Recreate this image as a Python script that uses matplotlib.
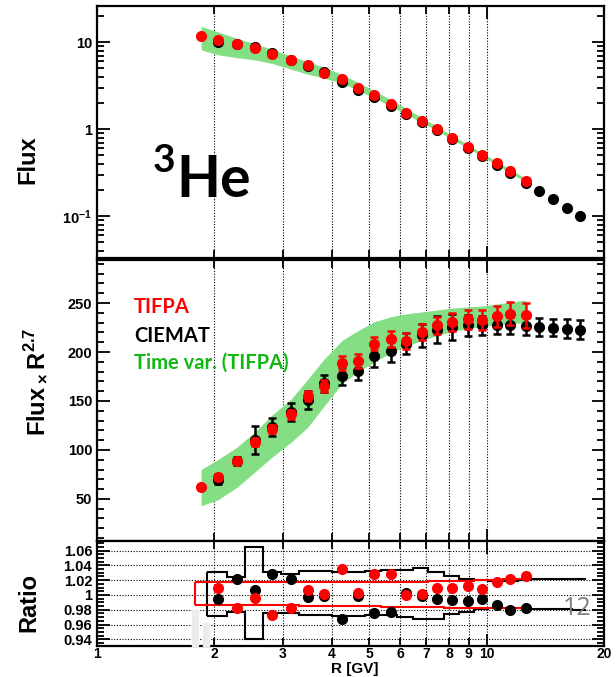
import numpy as np
import matplotlib.pyplot as plt
from matplotlib.ticker import FixedLocator, MultipleLocator, NullFormatter, FuncFormatter, LogLocator
from matplotlib.patches import Rectangle

plt.rcParams['mathtext.fontset'] = 'custom'
plt.rcParams['mathtext.rm'] = 'Liberation Sans'
plt.rcParams['mathtext.bf'] = 'Liberation Sans:bold'

# rigidity bin centres [GV]
rig = [1.85, 2.04, 2.29, 2.55, 2.82, 3.15, 3.47, 3.83, 4.26, 4.68, 5.15,
       5.67, 6.22, 6.84, 7.47, 8.16, 8.95, 9.75, 10.6, 11.5, 12.6,
       13.6, 14.8, 16.1, 17.4]

# Flux x R^2.7, TIFPA analysis (first 21 bins)
tifpa_r27 = [61.8, 72.7, 88.4, 108.4, 121.3, 136.3, 155.0, 165.5, 188.5, 190.5,
             208.6, 213.0, 211.3, 220.5, 227.2, 230.7, 233.3, 233.0, 236.4, 239.2, 237.4]
tifpa_err = [2, 3, 3, 4, 4, 5, 5, 6, 7, 7, 7, 8, 8, 8, 9, 9, 10, 10, 11, 12, 13]

# Flux x R^2.7, CIEMAT analysis (from the second bin on)
ciemat_r27 = [69.4, 89.0, 110.0, 123.7, 139.0, 151.0, 168.0, 175.8, 181.0, 196.0,
              200.8, 208.6, 217.0, 222.9, 225.6, 227.2, 227.2, 228.0, 227.2, 226.5,
              225.6, 225.0, 223.9, 222.9]
ciemat_err = [4, 4, 14, 9, 9, 9, 9, 9, 10, 11, 11, 11, 12, 14, 13, 11, 10, 10,
              9, 9, 9, 9, 10, 10]

# time variation band (TIFPA), Flux x R^2.7
band_lo = [43, 49, 62, 78, 93, 108, 123, 145, 168, 180, 190, 199, 206, 212,
           217, 221, 224, 226, 228, 229, 230]
band_hi = [80, 90, 103, 119, 136, 152, 172, 193, 212, 222, 231, 236, 239, 241,
           243, 245, 246, 247, 249, 251, 253]

# ratios to the mean, bins 2.04 .. 12.6 GV
ratio_tifpa = [1.009, 0.983, 0.996, 0.973, 0.982, 1.0065, 1.002, 1.035, 1.003, 1.028,
               1.028, 1.000, 1.002, 1.009, 1.009, 1.012, 1.008, 1.018, 1.022, 1.026]
ratio_ciemat = [0.994, 1.022, 1.0065, 1.028, 1.0215, 0.9966, 0.998, 0.968, 0.999, 0.976,
                0.977, 1.003, 0.999, 0.994, 0.993, 0.992, 0.995, 0.986, 0.980, 0.983]

# total uncertainty envelope (black) on bin edges 1.92 .. 18 GV
env_edges = [1.92, 2.15, 2.40, 2.67, 2.97, 3.29, 3.64, 4.02, 4.43, 4.88, 5.37, 5.90,
             6.47, 7.09, 7.76, 8.48, 9.26, 10.1, 11.0, 12.0, 13.0, 14.1, 15.3, 16.6, 18.0]
env_hi = [1.031, 1.0246, 1.0645, 1.0306, 1.029, 1.033, 1.033, 1.031, 1.031, 1.033,
          1.034, 1.034, 1.036, 1.031, 1.026, 1.022, 1.020, 1.019, 1.019, 1.020,
          1.021, 1.021, 1.022, 1.022]
env_lo = [0.9716, 0.977, 0.940, 0.976, 0.975, 0.9725, 0.9725, 0.971, 0.971, 0.973,
          0.9725, 0.970, 0.968, 0.968, 0.974, 0.977, 0.981, 0.982, 0.982, 0.982,
          0.981, 0.981, 0.981, 0.980]

# TIFPA uncertainty band (red) on bin edges 1.78 .. 13 GV
red_edges = [1.78, 1.92, 2.15, 2.40, 2.67, 2.97, 3.29, 3.64, 4.02, 4.43, 4.88, 5.37,
             5.90, 6.47, 7.09, 7.76, 8.48, 9.26, 10.1, 11.0, 12.0, 13.0]
red_hi = [1.017, 1.017, 1.017, 1.017, 1.017, 1.017, 1.018, 1.018, 1.017, 1.017, 1.017,
          1.018, 1.018, 1.018, 1.019, 1.019, 1.019, 1.020, 1.020, 1.021, 1.022]
red_lo = [0.986, 0.986, 0.986, 0.986, 0.986, 0.986, 0.985, 0.985, 0.985, 0.985, 0.985,
          0.984, 0.984, 0.984, 0.984, 0.983, 0.983, 0.983, 0.982, 0.982, 0.982]

x_labels = [1, 2, 3, 4, 5, 6, 7, 8, 9, 10, 20]

TICKFONT = {'family': 'Liberation Sans', 'weight': 'bold', 'size': 10.5}
XTICKFONT = {'family': 'Liberation Sans', 'weight': 'bold', 'size': 10}
GREEN_BAND = '#84de84'

rig = np.array(rig)
n_t = len(tifpa_r27)
r_t = rig[:n_t]
r_c = rig[1:1 + len(ciemat_r27)]
r_ratio = rig[1:1 + len(ratio_tifpa)]


def style_axes(ax, show_xlabels=False):
    ax.set_xscale('log')
    ax.set_xlim(1, 20)
    for s in ax.spines.values():
        s.set_linewidth(1.6)
    ax.xaxis.set_major_locator(FixedLocator([1, 10]))
    ax.xaxis.set_minor_locator(FixedLocator([2, 3, 4, 5, 6, 7, 8, 9, 20]))
    ax.tick_params(which='both', direction='in', top=True, right=True, width=1.3)
    ax.tick_params(which='major', length=9)
    ax.tick_params(which='minor', length=5)
    ax.tick_params(axis='x', which='minor', length=6)
    for v in x_labels[1:]:
        ax.axvline(v, color='k', ls=(0, (1, 1.5)), lw=0.8, zorder=0.5)
    if show_xlabels:
        fmt = FuncFormatter(lambda v, p: f'{v:g}')
        ax.xaxis.set_major_formatter(fmt)
        ax.xaxis.set_minor_formatter(fmt)
        ax.tick_params(axis='x', which='both', pad=1)
    else:
        ax.xaxis.set_major_formatter(NullFormatter())
        ax.xaxis.set_minor_formatter(NullFormatter())
    for lab in ax.get_xticklabels(which='both'):
        lab.set_fontproperties(XTICKFONT)
    for lab in ax.get_yticklabels():
        lab.set_fontproperties(TICKFONT)


fig = plt.figure(figsize=(6.16, 6.77), dpi=100)
L, W = 97 / 616, 507 / 616
ax1 = fig.add_axes([L, 1 - 258 / 677, W, 252 / 677])
ax2 = fig.add_axes([L, 1 - 541 / 677, W, 281 / 677])
ax3 = fig.add_axes([L, 1 - 646 / 677, W, 105 / 677])

# --- flux panel
scale_t = r_t ** 2.7
ax1.fill_between(r_t, np.array(band_lo) / scale_t, np.array(band_hi) / scale_t,
                 color=GREEN_BAND, lw=0, zorder=1)
ax1.plot(r_c, np.array(ciemat_r27) / r_c ** 2.7, 'o', color='k', ms=7, zorder=3)
ax1.plot(r_t, np.array(tifpa_r27) / scale_t, 'o', color='#ff0000', ms=7, zorder=4)
ax1.set_yscale('log')
ax1.set_ylim(0.033, 26)
ax1.yaxis.set_major_locator(FixedLocator([0.1, 1, 10]))
ax1.yaxis.set_minor_locator(LogLocator(base=10, subs=np.arange(2, 10)))
ax1.yaxis.set_minor_formatter(NullFormatter())
ax1.yaxis.set_major_formatter(FuncFormatter(
    lambda v, p: {0.1: r'$\mathbf{10^{-1}}$', 1: '1', 10: '10'}.get(round(v, 3), '')))
style_axes(ax1)

# --- flux x R^2.7 panel
ax2.fill_between(r_t, band_lo, band_hi, color=GREEN_BAND, lw=0, zorder=1)
ax2.errorbar(r_c, ciemat_r27, yerr=ciemat_err, fmt='o', color='k', ms=7,
             elinewidth=1.8, capsize=3, capthick=1.8, zorder=3)
ax2.errorbar(r_t, tifpa_r27, yerr=tifpa_err, fmt='o', color='#ff0000', ms=7,
             elinewidth=1.8, capsize=3, capthick=1.8, zorder=4)
ax2.set_ylim(7, 294)
ax2.yaxis.set_major_locator(MultipleLocator(50))
ax2.yaxis.set_minor_locator(MultipleLocator(10))
ax2.yaxis.set_major_formatter(FuncFormatter(lambda v, p: f'{v:g}' if v >= 50 else ''))
style_axes(ax2)

# --- ratio panel
ax3.set_ylim(0.931, 1.073)
ax3.yaxis.set_major_locator(FixedLocator([0.94, 0.96, 0.98, 1.0, 1.02, 1.04, 1.06]))
ax3.yaxis.set_minor_locator(MultipleLocator(0.005))
ax3.yaxis.set_major_formatter(FuncFormatter(lambda v, p: f'{v:g}'))
for v in [0.94, 0.96, 0.98, 1.0, 1.02, 1.04, 1.06]:
    ax3.axhline(v, color='k', ls=(0, (1, 1.5)), lw=0.8, zorder=0.5)
ax3.stairs(env_hi, env_edges, baseline=None, color='k', lw=1.5, zorder=2)
ax3.stairs(env_lo, env_edges, baseline=None, color='k', lw=1.5, zorder=2)
ax3.vlines(env_edges[0], env_lo[0], env_hi[0], color='k', lw=1.5, zorder=2)
ax3.stairs(red_hi, red_edges, baseline=None, color='#ff0000', lw=1.5, zorder=2.5)
ax3.stairs(red_lo, red_edges, baseline=None, color='#ff0000', lw=1.5, zorder=2.5)
ax3.vlines(red_edges[0], red_lo[0], red_hi[0], color='#ff0000', lw=1.5, zorder=2.5)
ax3.plot(r_ratio, ratio_ciemat, 'o', color='k', ms=7, zorder=3)
ax3.plot(r_ratio, ratio_tifpa, 'o', color='#ff0000', ms=7, zorder=4)
style_axes(ax3, show_xlabels=True)

# axis titles
title_kw = dict(family='Liberation Sans', fontweight='bold', fontsize=17,
                rotation=90, ha='center', va='center')
fig.text(28 / 616, 1 - 160 / 677, 'Flux', **title_kw)
fig.text(36 / 616, 1 - 382 / 677,
         r'$\mathbf{Flux}\,_{\mathbf{\times}}\,\mathbf{R}^{\mathbf{2.7}}$', **title_kw)
fig.text(29 / 616, 1 - 603 / 677, 'Ratio', **title_kw)
fig.text(355 / 616, 1 - 676.5 / 677, 'R [GV]', family='Liberation Sans',
         fontweight='bold', fontsize=11, ha='center', va='bottom')

# species label
fig.text(176 / 616, 1 - 197 / 677, 'He', family='Lato', fontweight='bold',
         fontsize=41, ha='left', va='baseline')
fig.text(153 / 616, 1 - 172 / 677, '3', family='Lato', fontweight='bold',
         fontsize=28, ha='left', va='baseline')

# legend entries
leg_kw = dict(family='Lato', fontweight='bold', fontsize=14.5, ha='left', va='center')
fig.text(134 / 616, 1 - 307 / 677, 'TIFPA', color='#ff0000', **leg_kw)
fig.text(134 / 616, 1 - 336 / 677, 'CIEMAT', color='k', **leg_kw)
fig.text(134 / 616, 1 - 363 / 677, 'Time var. (TIFPA)', color='#11b811', **leg_kw)

# page number
fig.text(563 / 616, 1 - 615 / 677, '12', family='Open Sans', fontsize=18,
         color='#808080', ha='left', va='baseline')

# faint marks near the bottom-left of the ratio panel
fig.patches.append(Rectangle((192 / 616, 1 - 646 / 677), 6 / 616, 36 / 677,
                             transform=fig.transFigure, color='#ececec', zorder=10))
fig.patches.append(Rectangle((203 / 616, 1 - 646 / 677), 6 / 616, 23 / 677,
                             transform=fig.transFigure, color='#ececec', zorder=10))

fig.savefig('out.png', dpi=100)
